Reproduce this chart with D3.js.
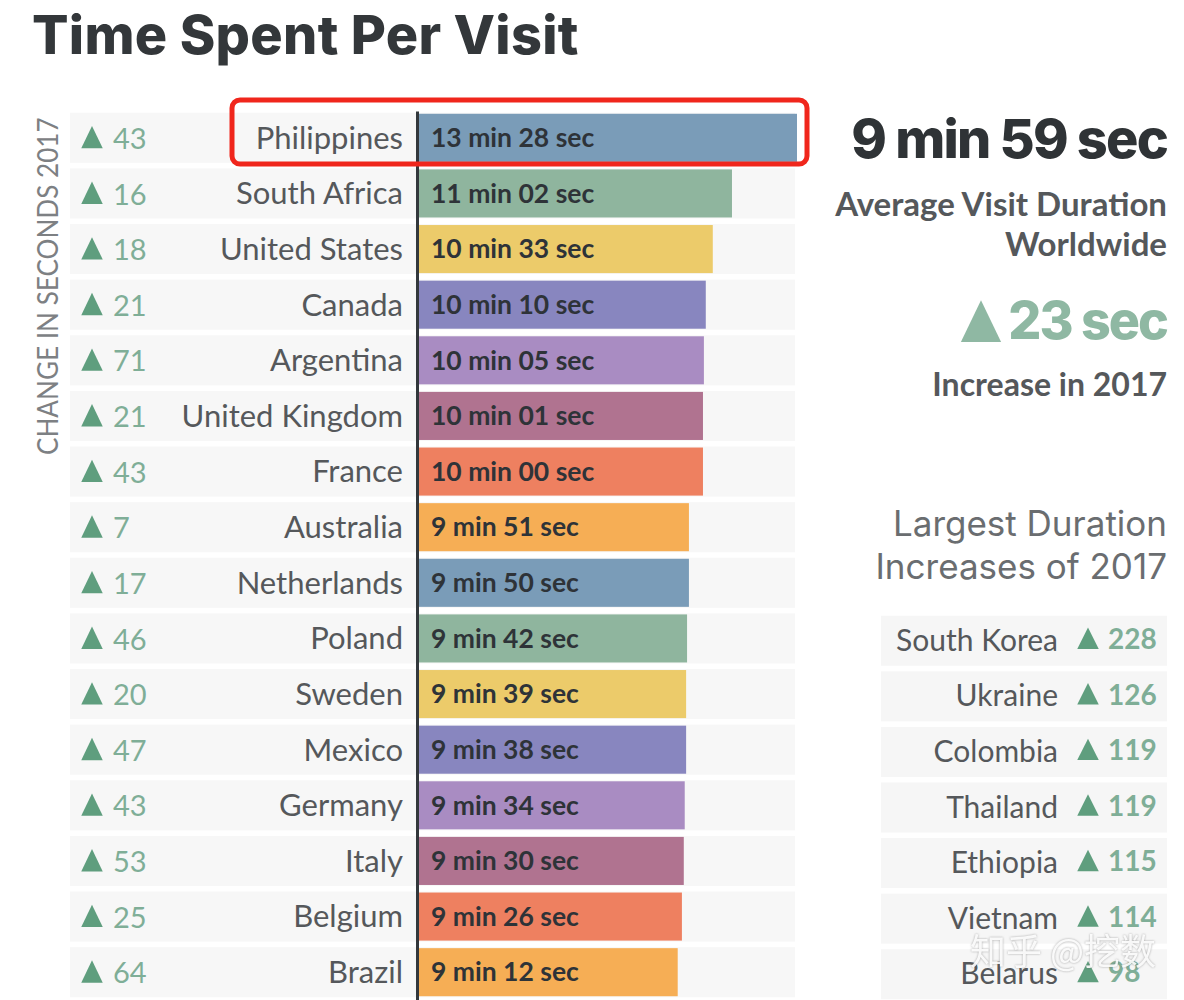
<!DOCTYPE html>
<html>
<head>
<meta charset="utf-8">
<script src="https://cdnjs.cloudflare.com/ajax/libs/d3/7.8.5/d3.min.js"></script>
<style>
html, body { margin: 0; padding: 0; background: #fff; }
svg { display: block; }
text { font-family: Lato, "Open Sans", sans-serif; }
.axis text { font-size: 31px; fill: #55585b; }
.axis path { stroke: #33383c; stroke-width: 3px; }
.heavy { font-family: Inter, sans-serif; }
</style>
</head>
<body>
<svg width="1184" height="1000"></svg>
<script>
const countries = ['Philippines', 'South Africa', 'United States', 'Canada', 'Argentina', 'United Kingdom', 'France', 'Australia', 'Netherlands', 'Poland', 'Sweden', 'Mexico', 'Germany', 'Italy', 'Belgium', 'Brazil'];
const durationLabels = ['13 min 28 sec', '11 min 02 sec', '10 min 33 sec', '10 min 10 sec', '10 min 05 sec', '10 min 01 sec', '10 min 00 sec', '9 min 51 sec', '9 min 50 sec', '9 min 42 sec', '9 min 39 sec', '9 min 38 sec', '9 min 34 sec', '9 min 30 sec', '9 min 26 sec', '9 min 12 sec'];
// bar lengths as drawn in the picture, in seconds (they drift a little from the printed labels)
const barSeconds = [808, 669, 628, 613, 609, 607, 607, 577, 577, 573, 571, 571, 568, 566, 562, 553];
const changes = [43, 16, 18, 21, 71, 21, 43, 7, 17, 46, 20, 47, 43, 53, 25, 64];
const palette = ['#7a9cb8', '#8fb59e', '#eccb6a', '#8886bf', '#a98cc2', '#b07390', '#ee8060', '#f6ae55'];

const topCountries = ['South Korea', 'Ukraine', 'Colombia', 'Thailand', 'Ethiopia', 'Vietnam', 'Belarus'];
const topChanges = [228, 126, 119, 119, 115, 114, 98];

const svg = d3.select('svg');
const green = '#5f9e7e';

const x = d3.scaleLinear().domain([0, 808]).range([419, 797]);
const y = d3.scaleBand().domain(countries).range([110, 1000]).paddingInner(0.1).paddingOuter(0.05);
const color = d3.scaleOrdinal().domain(countries).range(palette);
const tri = d3.symbol().type(d3.symbolTriangle).size(200);

svg.append('text')
    .attr('class', 'heavy')
    .attr('x', 32).attr('y', 54)
    .attr('font-size', 54).attr('font-weight', 800).attr('fill', '#33373a')
    .attr('letter-spacing', 0.3)
    .text('Time Spent Per Visit');

// rotated side label
svg.append('text')
    .attr('transform', 'translate(58,455) rotate(-90) scale(0.9,1)')
    .attr('font-size', 29).attr('fill', '#7d8083')
    .text('CHANGE IN SECONDS 2017');

const rows = svg.append('g').selectAll('g')
    .data(countries)
    .join('g');

rows.append('rect')
    .attr('x', 70).attr('width', 725)
    .attr('y', d => y(d)).attr('height', y.bandwidth())
    .attr('fill', '#f7f7f7');

rows.append('rect')
    .attr('x', x(0))
    .attr('y', d => y(d) + 1).attr('height', y.bandwidth() - 2)
    .attr('width', (d, i) => x(barSeconds[i]) - x(0))
    .attr('fill', d => color(d));

rows.append('path')
    .attr('d', tri)
    .attr('fill', green)
    .attr('transform', d => `translate(92,${y(d) + y.bandwidth() / 2 + 3}) scale(1,1.2)`);

rows.append('text')
    .attr('x', 113)
    .attr('y', d => y(d) + y.bandwidth() / 2 + 1)
    .attr('dy', '0.35em')
    .attr('font-size', 29).attr('fill', '#7fae97')
    .text((d, i) => changes[i]);

rows.append('text')
    .attr('x', 431)
    .attr('y', d => y(d) + y.bandwidth() / 2)
    .attr('dy', '0.35em')
    .attr('font-size', 26.5).attr('font-weight', 700).attr('fill', '#2e3338')
    .text((d, i) => durationLabels[i]);

svg.append('g')
    .attr('class', 'axis')
    .attr('transform', 'translate(417,1)')
    .call(d3.axisLeft(y).tickSize(0).tickPadding(14));

// right column
const rightText = [
    ['9 min 59 sec', 158, 54, 800, '#2f3336', 'heavy', -1.8],
    ['Average Visit Duration', 216, 33, 700, '#55585b', '', 0],
    ['Worldwide', 256, 33, 700, '#55585b', '', 0],
    ['23 sec', 339, 52, 800, '#8fb8a3', 'heavy', -2],
    ['Increase in 2017', 396, 32, 700, '#55585b', '', 0],
    ['Largest Duration', 536, 35, 400, '#6a6d70', 'heavy', 0],
    ['Increases of 2017', 579, 35, 400, '#6a6d70', 'heavy', 0],
];
svg.append('g').selectAll('text')
    .data(rightText)
    .join('text')
    .attr('class', d => d[5])
    .attr('x', 1167).attr('text-anchor', 'end')
    .attr('y', d => d[1])
    .attr('font-size', d => d[2])
    .attr('font-weight', d => d[3])
    .attr('fill', d => d[4])
    .attr('letter-spacing', d => d[6])
    .text(d => d[0]);

svg.append('path')
    .attr('d', d3.symbol().type(d3.symbolTriangle).size(700))
    .attr('fill', '#8fb8a3')
    .attr('transform', 'translate(981,328) scale(1,1.2)');

// largest increases table
const yTop = d3.scaleBand().domain(topCountries).range([613, 1002]).paddingInner(0.1).paddingOuter(0.05);
const topRows = svg.append('g').selectAll('g')
    .data(topCountries)
    .join('g');

topRows.append('rect')
    .attr('x', 881).attr('width', 286)
    .attr('y', d => yTop(d)).attr('height', yTop.bandwidth())
    .attr('fill', '#f6f6f6');

topRows.append('text')
    .attr('x', 1058).attr('text-anchor', 'end')
    .attr('y', d => yTop(d) + yTop.bandwidth() / 2 - 1)
    .attr('dy', '0.37em')
    .attr('font-size', 30).attr('fill', '#55585b')
    .text(d => d);

topRows.append('path')
    .attr('d', tri)
    .attr('fill', green)
    .attr('transform', d => `translate(1088,${yTop(d) + yTop.bandwidth() / 2 + 1}) scale(1,1.15)`);

topRows.append('text')
    .attr('x', 1108)
    .attr('y', d => yTop(d) + yTop.bandwidth() / 2 - 1)
    .attr('dy', '0.33em')
    .attr('font-size', 28).attr('font-weight', 700).attr('fill', '#7fae97')
    .text((d, i) => topChanges[i]);

// red highlight around first row
svg.append('rect')
    .attr('x', 232).attr('y', 100).attr('width', 575).attr('height', 64).attr('rx', 8)
    .attr('fill', 'none').attr('stroke', '#f0261c').attr('stroke-width', 5);

// watermark
svg.append('text')
    .attr('x', 970).attr('y', 965)
    .attr('font-size', 36)
    .style('font-family', '"Noto Sans CJK SC"')
    .style('filter', 'drop-shadow(0 0 1px rgba(90,90,90,0.55))')
    .attr('fill', '#fff').attr('fill-opacity', 0.9)
    .text('知乎 @挖数');
</script>
</body>
</html>
